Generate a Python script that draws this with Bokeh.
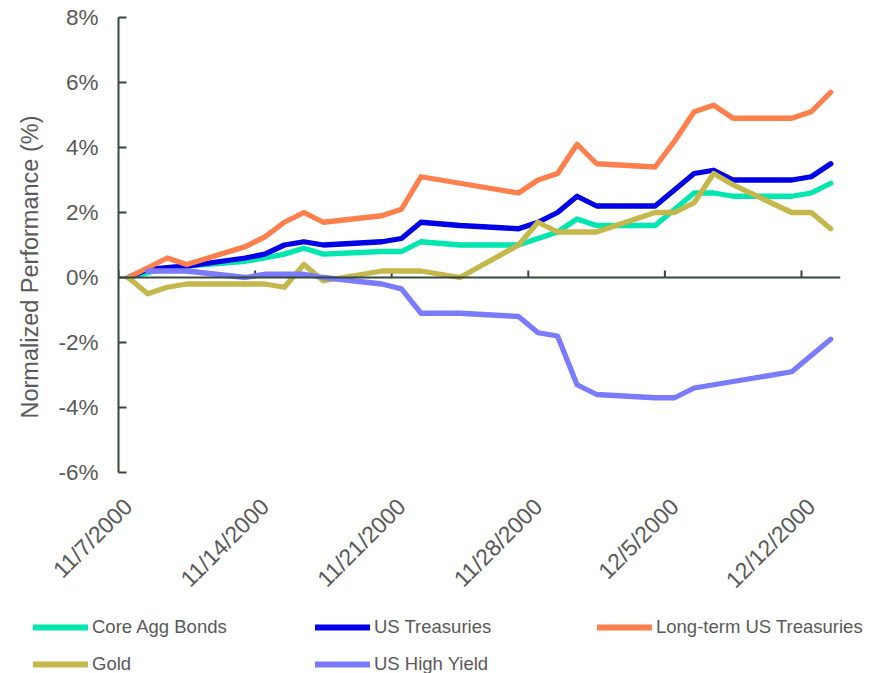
import math
from datetime import datetime
from bokeh.plotting import figure
from bokeh.models import (Range1d, FixedTicker, PrintfTickFormatter, CustomJSTickFormatter,
                          Span, Legend, LegendItem, ColumnDataSource, Title)
from bokeh.embed import file_html
from bokeh.resources import INLINE

# ---------------- data ----------------
dates = ["11/7/2000", "11/8/2000", "11/9/2000", "11/10/2000", "11/13/2000", "11/14/2000",
         "11/15/2000", "11/16/2000", "11/17/2000", "11/20/2000", "11/21/2000", "11/22/2000",
         "11/24/2000", "11/27/2000", "11/28/2000", "11/29/2000", "11/30/2000", "12/1/2000",
         "12/4/2000", "12/5/2000", "12/6/2000", "12/7/2000", "12/8/2000", "12/11/2000",
         "12/12/2000", "12/13/2000"]

core_agg_bonds = [0.0, 0.15, 0.3, 0.35, 0.5, 0.6, 0.72, 0.9, 0.72, 0.8, 0.8, 1.1,
                  1.0, 1.0, 1.2, 1.4, 1.8, 1.6, 1.6, 2.1, 2.6, 2.6, 2.5, 2.5, 2.6, 2.9]
us_treasuries = [0.0, 0.25, 0.3, 0.35, 0.6, 0.72, 1.0, 1.1, 1.0, 1.1, 1.2, 1.7,
                 1.6, 1.5, 1.7, 2.0, 2.5, 2.2, 2.2, 2.7, 3.2, 3.3, 3.0, 3.0, 3.1, 3.5]
long_term_ust = [0.0, 0.3, 0.6, 0.4, 0.95, 1.25, 1.7, 2.0, 1.7, 1.9, 2.1, 3.1,
                 2.9, 2.6, 3.0, 3.2, 4.1, 3.5, 3.4, 4.2, 5.1, 5.3, 4.9, 4.9, 5.1, 5.7]
gold = [0.0, -0.5, -0.3, -0.2, -0.2, -0.2, -0.3, 0.4, -0.1, 0.2, 0.2, 0.2,
        0.0, 1.0, 1.7, 1.4, 1.4, 1.4, 2.0, 2.0, 2.3, 3.2, 2.85, 2.0, 2.0, 1.5]
us_high_yield = [float("nan"), 0.2, 0.2, 0.2, 0.0, 0.1, 0.1, 0.1, 0.0, -0.2, -0.35, -1.1,
                 -1.1, -1.2, -1.7, -1.8, -3.3, -3.6, -3.7, -3.7, -3.4, -3.3, -3.2, -2.9, -2.4, -1.9]

series_names = ["Core Agg Bonds", "US Treasuries", "Long-term US Treasuries", "Gold", "US High Yield"]
series_values = [core_agg_bonds, us_treasuries, long_term_ust, gold, us_high_yield]
series_colors = ["#00E6AE", "#0000E6", "#FF7F4D", "#C4B74B", "#7B7BFF"]

tick_labels = ["11/7/2000", "11/14/2000", "11/21/2000", "11/28/2000", "12/5/2000", "12/12/2000"]
y_ticks = [-6, -4, -2, 0, 2, 4, 6, 8]
y_title = "Normalized Performance (%)"

# ---------------- positions (days since first date; points at the middle of each day) -----
start = datetime.strptime(dates[0], "%m/%d/%Y")
def day_index(s):
    return (datetime.strptime(s, "%m/%d/%Y") - start).days

x_vals = [day_index(d) + 0.5 for d in dates]
tick_pos = [day_index(t) for t in tick_labels]
label_pos = [t + 0.5 for t in tick_pos]

FONT = "Liberation Sans"
TXT = "#595959"
AXC = "#34483C"
W = 870

p = figure(width=W, height=605, x_range=Range1d(0, 37), y_range=Range1d(-6, 8),
           output_backend="svg", toolbar_location=None,
           min_border_left=118, min_border_right=30, min_border_top=17, min_border_bottom=125)
p.outline_line_color = None
p.xgrid.grid_line_color = None
p.ygrid.grid_line_color = None
p.background_fill_color = "white"
p.border_fill_color = "white"

# y axis
yax = p.yaxis[0]
yax.ticker = FixedTicker(ticks=y_ticks)
yax.formatter = PrintfTickFormatter(format="%d%%")
yax.axis_line_color = AXC
yax.axis_line_width = 2
yax.major_tick_line_color = AXC
yax.major_tick_line_width = 2
yax.major_tick_in = 8
yax.major_tick_out = 0
yax.minor_tick_line_color = None
yax.major_label_text_font = FONT
yax.major_label_text_font_size = "22.5px"
yax.major_label_text_color = TXT
yax.major_label_standoff = 20

# y title (slightly below the centre of the axis, as in the reference)
p.add_layout(Title(text=y_title, align="left", offset=54, standoff=25,
                   text_font=FONT, text_font_size="23.5px", text_font_style="normal",
                   text_color=TXT), "left")

# x axis: only labels at the bottom
xax = p.xaxis[0]
xax.ticker = FixedTicker(ticks=label_pos)
xax.formatter = CustomJSTickFormatter(args=dict(labels=tick_labels),
                                      code="return labels[Math.round((tick - 0.5) / 7)];")
xax.axis_line_color = None
xax.major_tick_line_color = None
xax.minor_tick_line_color = None
xax.major_label_orientation = math.pi / 4
xax.major_label_text_font = FONT
xax.major_label_text_font_size = "23px"
xax.major_label_text_color = TXT
xax.major_label_standoff = 24

# zero line with upward ticks
p.add_layout(Span(location=0, dimension="width", line_color=AXC, line_width=2))
tick_len = 7 / (463 / 14)
p.segment(x0=tick_pos, y0=[0] * len(tick_pos), x1=tick_pos, y1=[tick_len] * len(tick_pos),
          line_color=AXC, line_width=2)

for name, vals, col in zip(series_names, series_values, series_colors):
    src = ColumnDataSource(dict(x=x_vals, y=vals))
    p.line("x", "y", source=src, line_color=col, line_width=5.3,
           line_join="round", line_cap="round")

# legend strip below the chart (its lines lie outside its own ranges; only the legend shows)
lf = figure(width=W, height=68, x_range=Range1d(-20, -10), y_range=Range1d(-20, -10),
            output_backend="svg", toolbar_location=None,
            x_axis_type=None, y_axis_type=None, min_border=0)
lf.outline_line_color = None
lf.xgrid.grid_line_color = None
lf.ygrid.grid_line_color = None
items = []
for name, vals, col in zip(series_names, series_values, series_colors):
    r = lf.line(x=x_vals, y=vals, line_color=col, line_width=6, line_cap="round")
    items.append(LegendItem(label=name, renderers=[r]))

legend = Legend(items=items, location=(33, -2), orientation="horizontal", ncols=3,
                glyph_width=55, glyph_height=20, label_height=20, label_width=208,
                label_standoff=4, spacing=15, padding=0, margin=0,
                border_line_color=None, background_fill_alpha=0,
                label_text_font=FONT, label_text_font_size="18.5px", label_text_color=TXT)
lf.add_layout(legend)

open("out.html", "w").write(file_html([p, lf], INLINE))
